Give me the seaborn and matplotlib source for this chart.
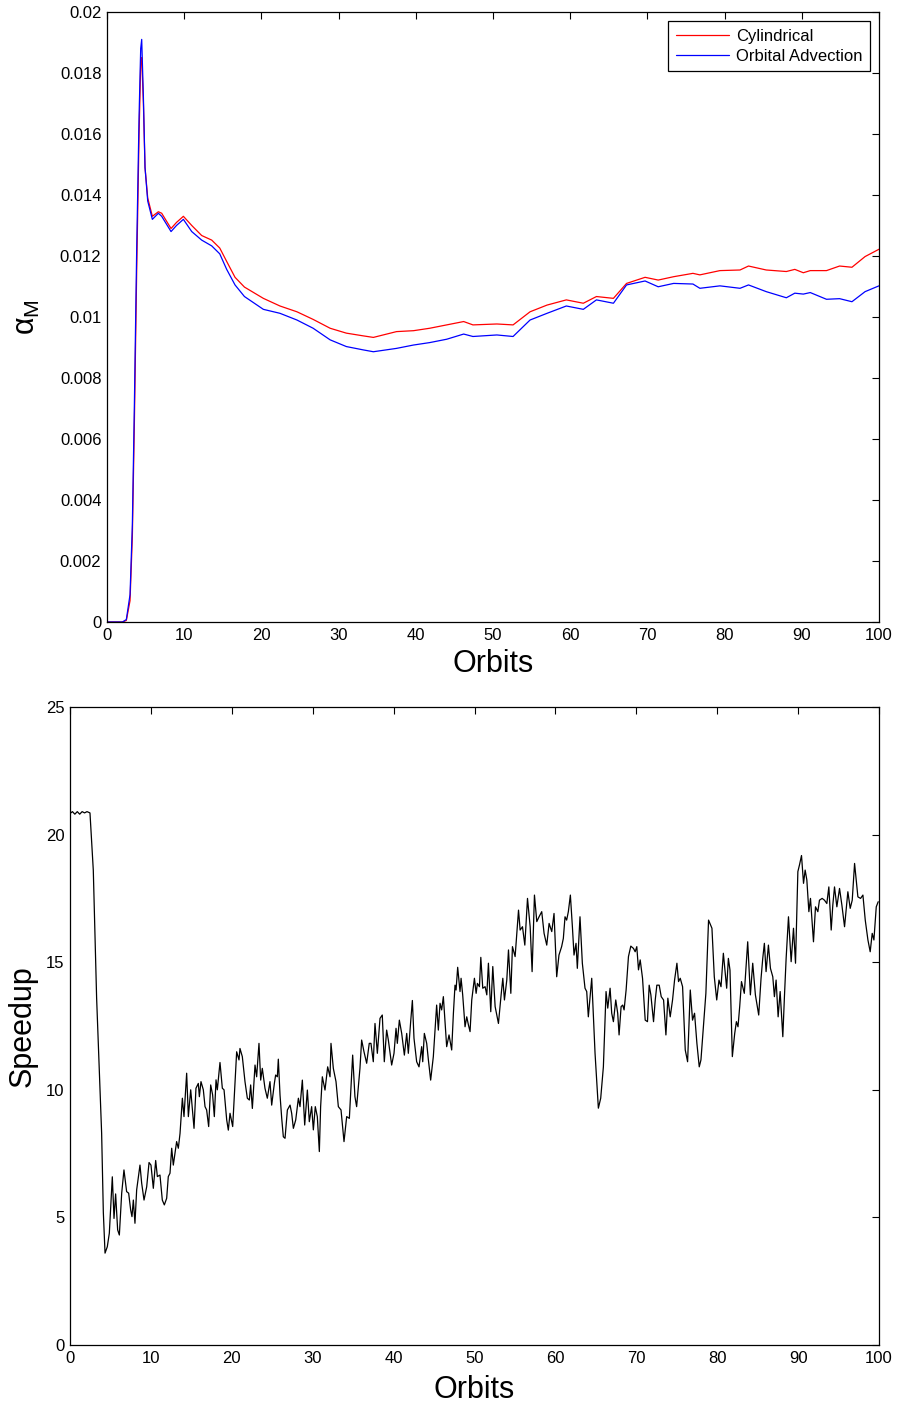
import numpy as np
import pandas as pd
import matplotlib
matplotlib.use("Agg")
import matplotlib.pyplot as plt
from matplotlib.ticker import FuncFormatter, MultipleLocator
import seaborn as sns

# ---------------- data: top panel (alpha_M) ----------------
orbits_top = [0, 1, 2, 2.5, 2.98, 3.28, 3.54, 3.84, 4.15, 4.36, 4.49, 4.71, 4.92, 5.27,
              5.87, 6.65, 7.08, 8.29, 9.0, 9.89, 10.97, 12.26, 13.56, 14.6, 15.5, 16.58,
              17.8, 20.25, 22.4, 24.6, 26.7, 28.9, 31.0, 33.2, 34.5, 37.5, 39.7, 41.8,
              44.0, 46.2, 47.4, 50.5, 52.6, 54.8, 57.0, 59.5, 61.7, 63.4, 65.6, 67.3,
              69.7, 71.4, 73.4, 75.9, 76.8, 79.4, 82.0, 83.1, 85.4, 88.0, 89.1, 90.2,
              91.1, 93.2, 94.9, 96.5, 98.2, 100]
cylindrical = [0, 0, 0, 0.00005, 0.0007, 0.0028, 0.0065, 0.0115, 0.0160, 0.0183, 0.0185,
               0.0170, 0.0149, 0.0139, 0.0133, 0.01345, 0.0134, 0.0129, 0.0131, 0.0133,
               0.0130, 0.01267, 0.01252, 0.01226, 0.01182, 0.0113, 0.01098, 0.01061,
               0.01036, 0.01017, 0.00992, 0.00963, 0.00947, 0.00938, 0.00933, 0.00952,
               0.00955, 0.00963, 0.00974, 0.00985, 0.00974, 0.00977, 0.00974, 0.01017,
               0.01039, 0.01056, 0.01045, 0.01067, 0.01061, 0.0111, 0.0113, 0.01121,
               0.01132, 0.01143, 0.01138, 0.01152, 0.01154, 0.01167, 0.01154, 0.01149,
               0.01156, 0.01145, 0.01152, 0.01152, 0.01167, 0.01163, 0.01198, 0.01222]
orbital_adv = [0, 0, 0, 0.00008, 0.0009, 0.0032, 0.0071, 0.0122, 0.0166, 0.0188, 0.0191,
               0.0172, 0.0149, 0.0138, 0.0132, 0.0134, 0.0133, 0.0128, 0.0130, 0.0132,
               0.0128, 0.01252, 0.01233, 0.01207, 0.01156, 0.01105, 0.01067, 0.01025,
               0.01012, 0.0099, 0.00963, 0.00925, 0.00903, 0.00892, 0.00886, 0.00897,
               0.00908, 0.00916, 0.00927, 0.00944, 0.00936, 0.00941, 0.00936, 0.0099,
               0.01012, 0.01036, 0.01025, 0.01056, 0.01045, 0.01105, 0.01118, 0.01099,
               0.0111, 0.01108, 0.01094, 0.01102, 0.01094, 0.01105, 0.01083, 0.01063,
               0.01078, 0.01075, 0.0108, 0.01058, 0.0106, 0.0105, 0.01083, 0.01102]

# ---------------- data: bottom panel (speedup) ----------------
orbits_bot = [0.1, 0.3, 0.6, 0.9, 1.2, 1.5, 1.8, 2.1, 2.47, 2.88, 3.29, 3.71, 3.91, 4.12, 4.33,
              4.61, 4.86, 5.23, 5.44, 5.64, 5.89, 6.10, 6.39, 6.67, 7.00, 7.25, 7.50, 7.66,
              7.83, 8.03, 8.24, 8.65, 8.86, 9.15, 9.48, 9.77, 10.01, 10.3, 10.59, 10.8,
              11.12, 11.41, 11.66, 11.95, 12.15, 12.36, 12.57, 12.77, 12.98, 13.18, 13.39,
              13.6, 13.89, 14.09, 14.42, 14.63, 14.92, 15.33, 15.57, 15.86, 15.99, 16.19,
              16.48, 16.69, 16.89, 17.14, 17.39, 17.63, 17.84, 18.05, 18.21, 18.54, 18.83,
              19.04, 19.37, 19.57,
              19.78, 20.11, 20.4, 20.6, 20.89, 21.01, 21.3, 21.63, 21.92, 22.17, 22.33,
              22.54, 22.87, 23.07, 23.36, 23.57, 23.77, 24.1, 24.39, 24.72, 24.93, 25.26,
              25.42, 25.63, 25.75, 25.96, 26.17, 26.37, 26.58, 26.87, 27.2, 27.4, 27.61,
              27.9, 28.23, 28.43, 28.72, 29.01, 29.34, 29.58, 29.87, 30.08, 30.32, 30.57,
              30.82, 30.98, 31.19, 31.52, 31.85, 32.14, 32.26, 32.55, 32.88, 33.17, 33.5,
              33.87, 34.2, 34.53, 34.94, 35.22, 35.43, 35.84, 36.05, 36.34, 36.67, 36.99,
              37.2, 37.49, 37.7, 37.99, 38.32, 38.6, 38.85, 39.14, 39.35,
              39.76, 40.05, 40.3, 40.46, 40.71, 41.0, 41.33, 41.62, 41.82, 42.11, 42.32,
              42.52, 42.85, 43.14, 43.47, 43.6, 43.8, 44.09, 44.3, 44.58, 44.91, 45.32,
              45.53, 45.74, 45.94, 46.15, 46.56, 46.85, 47.18, 47.39, 47.59, 47.72, 47.92,
              48.21, 48.34, 48.54, 48.83, 49.04, 49.25, 49.45, 49.66, 49.99, 50.2, 50.36,
              50.61, 50.78, 51.02, 51.31, 51.52, 51.72, 52.01, 52.26, 52.55, 52.96, 53.29,
              53.5, 53.7, 53.99, 54.2, 54.49, 54.69, 55.02, 55.23, 55.44, 55.64, 55.93,
              56.22, 56.55, 56.88, 57.12, 57.41, 57.7, 57.98, 58.31, 58.6, 58.93, 59.22,
              59.55, 59.83,
              60.16, 60.44, 60.77, 60.98, 61.19, 61.39, 61.6, 61.85, 62.1, 62.3, 62.55,
              62.71, 63.04, 63.33, 63.66, 63.87, 64.07, 64.49, 64.9, 65.31, 65.6, 65.93,
              66.26, 66.47, 66.76, 66.96, 67.17, 67.46, 67.7, 67.87, 68.12, 68.32, 68.49,
              68.74, 69.03, 69.32, 69.65, 69.86, 70.06, 70.27, 70.48, 70.77, 71.1, 71.38,
              71.59, 71.8, 72.13, 72.34, 72.54, 72.83, 73.08, 73.37, 73.66, 73.9, 74.19,
              74.48, 74.73, 75.02, 75.22, 75.43, 75.72, 76.05, 76.34, 76.67, 76.95, 77.2,
              77.49, 77.78, 77.99, 78.32, 78.6, 78.93, 79.35, 79.64,
              79.94, 80.22, 80.47, 80.76, 80.96, 81.17, 81.38, 81.58, 81.87, 82.16, 82.37,
              82.57, 82.78, 83.0, 83.35, 83.77, 84.1, 84.39, 84.72, 85.13, 85.42, 85.63,
              85.83, 86.04, 86.33, 86.58, 86.87, 87.07, 87.28, 87.53, 87.78, 88.11, 88.31,
              88.52, 88.81, 89.14, 89.43, 89.68, 89.97, 90.17, 90.42, 90.67, 90.87, 91.08,
              91.33, 91.53, 91.9, 92.15, 92.44, 92.64, 92.97, 93.26, 93.55, 93.8, 94.09,
              94.29, 94.5, 94.79, 95.12, 95.41, 95.74, 96.15, 96.44, 96.69, 96.98, 97.39,
              97.72, 98.01, 98.3, 98.63, 98.91, 99.16, 99.37, 99.66, 99.9]
speedup = [20.85, 20.9, 20.8, 20.9, 20.8, 20.9, 20.85, 20.9, 20.85, 18.6, 13.6, 10.0, 8.3, 5.2, 3.6,
           3.85, 4.38, 6.59, 4.96, 5.92, 4.51, 4.31, 5.95, 6.86, 6.01, 5.95, 5.29, 5.03,
           5.68, 4.77, 6.08, 7.05, 6.34, 5.68, 6.20, 7.15, 7.05, 6.14, 7.23, 6.60,
           6.66, 5.68, 5.49, 5.75, 6.60, 6.73, 7.71, 7.05, 7.51, 7.97, 7.71,
           8.29, 9.67, 8.95, 10.65, 8.95, 10.0, 8.49, 10.06, 10.25, 9.73, 10.32,
           10.0, 9.34, 9.21, 8.56, 10.19, 9.80, 8.95, 10.39, 10.0, 11.07, 10.06,
           10.0, 8.82, 8.42,
           9.08, 8.56, 10.3, 11.49, 11.17, 11.62, 11.3, 10.32, 9.67, 9.6, 10.19,
           9.27, 10.97, 10.51, 11.82, 10.38, 10.84, 10.06, 9.67, 10.32, 9.4, 10.25,
           10.58, 10.51, 11.2, 9.80, 8.88, 8.16, 8.1, 9.21, 9.4, 9.08, 8.49,
           8.82, 9.67, 9.34, 10.38, 8.62, 9.99, 8.75, 9.34, 8.43, 9.34, 8.95,
           7.58, 9.34, 10.51, 9.99, 10.9, 10.51, 11.82, 10.84, 10.32, 9.34, 9.21,
           7.97, 8.95, 8.88, 11.36, 9.73, 9.34, 10.84, 11.95, 11.49, 11.04, 11.82,
           11.82, 11.1, 12.6, 11.43, 12.8, 12.93, 11.1, 12.34, 11.95,
           10.97, 11.43, 12.41, 11.82, 12.73, 12.21, 11.36, 12.21, 11.43, 12.67, 13.5,
           12.02, 11.1, 10.9, 11.69, 11.1, 12.21, 11.82, 11.17, 10.38, 11.3, 13.32,
           12.34, 13.39, 13.13, 13.65, 11.69, 12.15, 11.56, 12.99, 14.1, 13.91, 14.8,
           13.85, 14.37, 13.72, 12.47, 12.86, 12.54, 12.28, 13.52, 14.37, 13.78, 14.17,
           14.04, 15.19, 13.98, 14.04, 13.72, 14.96, 13.06, 14.83, 13.26, 12.6, 13.72,
           14.37, 13.52, 14.3, 15.48, 13.78, 15.61, 15.22, 16.13, 17.04, 16.26, 16.39,
           15.67, 17.5, 16.39, 14.63, 17.63, 16.59, 16.78, 16.98, 16.13, 15.67, 16.52,
           16.2, 16.91,
           14.43, 15.28, 15.61, 15.93, 16.78, 16.65, 16.98, 17.63, 16.39, 15.28, 15.74,
           14.76, 16.78, 14.96, 13.98, 13.85, 12.86, 14.37, 11.43, 9.28, 9.67, 10.9,
           13.85, 13.2, 13.98, 13.0, 12.67, 13.52, 13.0, 12.15, 13.26, 13.32, 13.13,
           13.91, 15.22, 15.63, 15.54, 15.41, 15.61, 14.7, 15.09, 14.37, 12.73, 12.67,
           14.1, 13.72, 12.67, 13.52, 14.1, 14.1, 13.65, 13.52, 12.15, 13.59, 12.86,
           13.52, 14.3, 14.96, 14.24, 14.37, 14.04, 11.56, 11.1, 13.91, 12.73, 13.0,
           11.82, 10.9, 11.17, 12.6, 13.78, 16.65, 16.33, 14.43,
           13.52, 14.3, 14.04, 15.35, 14.69, 13.98, 15.15, 14.69, 11.3, 12.2, 12.67,
           12.47, 13.26, 14.24, 13.78, 15.8, 13.72, 14.96, 13.72, 12.93, 14.37, 15.15,
           15.74, 14.63, 15.67, 14.76, 14.43, 13.65, 14.3, 12.86, 13.85, 12.08, 13.65,
           15.15, 16.78, 15.02, 16.33, 14.96, 18.55, 18.81, 19.18, 18.09, 18.61, 18.22,
           16.98, 17.5, 15.8, 17.17, 16.98, 17.43, 17.5, 17.43, 17.3, 17.95, 16.26,
           17.24, 17.95, 17.17, 17.89, 17.24, 16.39, 17.76, 17.11, 17.43, 18.87, 17.56,
           17.5, 17.63, 16.65, 15.87, 15.41, 16.13, 15.87, 17.17, 17.37]

series_labels = ["Cylindrical", "Orbital Advection"]
series_colors = ["#ff0000", "#0000ff"]

# ---------------- styling ----------------
sns.set_style("white")
plt.rcParams["font.family"] = ["Liberation Sans", "DejaVu Sans"]
plt.rcParams["mathtext.fontset"] = "custom"
plt.rcParams["mathtext.rm"] = "Liberation Sans"
plt.rcParams["mathtext.it"] = "Liberation Sans"
plt.rcParams["text.color"] = "black"
plt.rcParams["axes.labelcolor"] = "black"

fig = plt.figure(figsize=(8.98, 14.05), dpi=100)
ax1 = fig.add_axes([0.1192, 0.5573, 0.8596, 0.4342])
ax2 = fig.add_axes([0.07795, 0.0427, 0.9009, 0.4541])

df_top = pd.DataFrame({
    "Orbits": orbits_top * 2,
    "alpha": cylindrical + orbital_adv,
    "series": [series_labels[0]] * len(orbits_top) + [series_labels[1]] * len(orbits_top),
})
sns.lineplot(data=df_top, x="Orbits", y="alpha", hue="series", hue_order=series_labels,
             palette=series_colors, linewidth=0.9, ax=ax1, sort=False, estimator=None)

df_bot = pd.DataFrame({"Orbits": orbits_bot, "Speedup": speedup})
sns.lineplot(data=df_bot, x="Orbits", y="Speedup", color="black", linewidth=0.9,
             ax=ax2, sort=False, estimator=None)

fmt = FuncFormatter(lambda v, p: "%g" % round(v, 6))
for ax in (ax1, ax2):
    ax.set_xlim(0, 100)
    ax.xaxis.set_major_locator(MultipleLocator(10))
    ax.tick_params(direction="in", length=5, width=0.8, top=True, right=True,
                   labelsize=12, pad=4, colors="black")
    for s in ax.spines.values():
        s.set_color("black")
        s.set_linewidth(0.9)
    ax.xaxis.set_major_formatter(fmt)
    ax.yaxis.set_major_formatter(fmt)

ax1.set_ylim(0, 0.02)
ax1.yaxis.set_major_locator(MultipleLocator(0.002))
ax2.set_ylim(0, 25)
ax2.yaxis.set_major_locator(MultipleLocator(5))

ax1.set_xlabel("Orbits", fontsize=22, labelpad=5, color="black")
ax1.set_ylabel(r"$\alpha_\mathregular{M}$", fontsize=22, labelpad=13, color="black")
ax2.set_xlabel("Orbits", fontsize=22, labelpad=7, color="black")
ax2.set_ylabel("Speedup", fontsize=22, labelpad=6, color="black")

leg = ax1.legend(loc="upper right", fontsize=12, frameon=True, fancybox=False,
                 edgecolor="black", framealpha=1, handlelength=3.2, borderpad=0.45,
                 labelspacing=0.3, handletextpad=0.4, borderaxespad=0.55)
leg.get_frame().set_linewidth(0.9)
for t in leg.get_texts():
    t.set_color("black")

fig.savefig("out.png", dpi=100)
